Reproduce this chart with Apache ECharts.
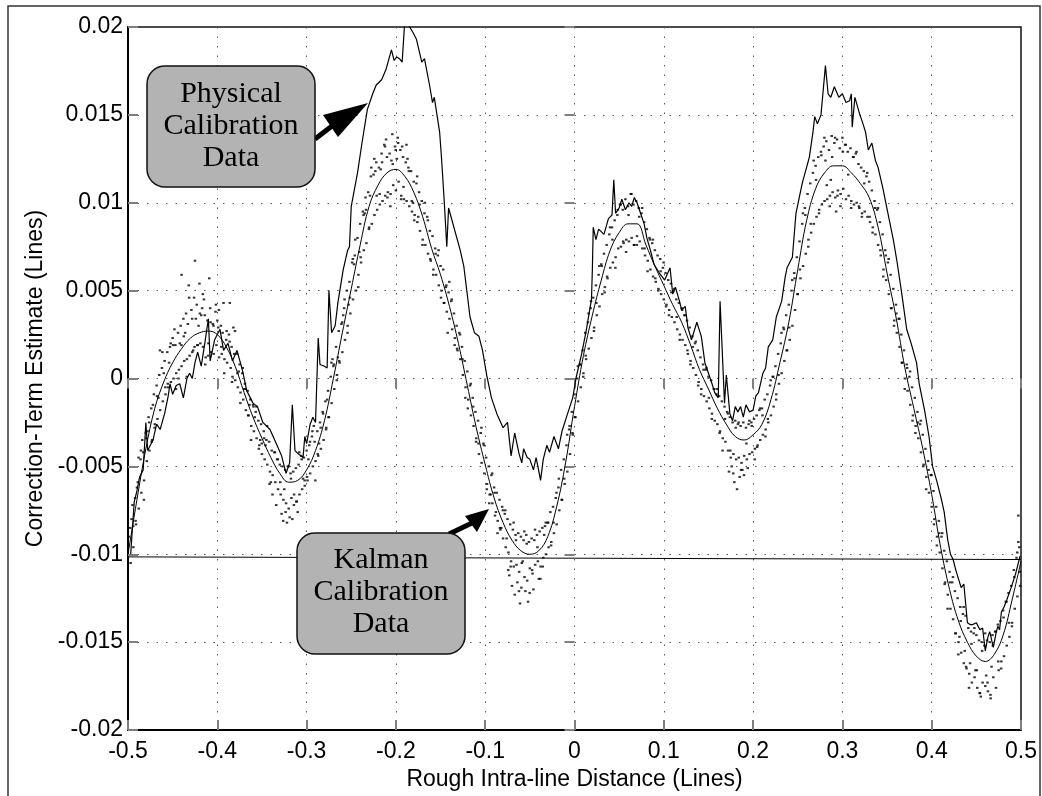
<!DOCTYPE html>
<html>
<head>
<meta charset="utf-8">
<title>Correction-Term Estimate</title>
<script src="https://cdn.jsdelivr.net/npm/echarts@6/dist/echarts.min.js"></script>
<style>
  html, body { margin: 0; padding: 0; background: #fff; }
  #chart { width: 1042px; height: 796px; }
</style>
</head>
<body>
<div id="chart"></div>
<script>
// all y values below are in 1e-3 lines, scatter / physical x values in 1e-3 lines

// fitted curve through the Kalman estimates
const fitX = [-0.5, -0.49, -0.48, -0.47, -0.46, -0.45, -0.44, -0.43, -0.42, -0.41, -0.4, -0.39, -0.38, -0.37, -0.36, -0.35, -0.34, -0.33, -0.32, -0.31, -0.3, -0.29, -0.28, -0.27, -0.26, -0.25, -0.24, -0.23, -0.22, -0.21, -0.2, -0.19, -0.18, -0.17, -0.16, -0.15, -0.14, -0.13, -0.12, -0.11, -0.1, -0.09, -0.08, -0.07, -0.06, -0.05, -0.04, -0.03, -0.02, -0.01, 0, 0.01, 0.02, 0.03, 0.04, 0.05, 0.06, 0.07, 0.08, 0.09, 0.1, 0.11, 0.12, 0.13, 0.14, 0.15, 0.16, 0.17, 0.18, 0.19, 0.2, 0.21, 0.22, 0.23, 0.24, 0.25, 0.26, 0.27, 0.28, 0.29, 0.3, 0.31, 0.32, 0.33, 0.34, 0.35, 0.36, 0.37, 0.38, 0.39, 0.4, 0.41, 0.42, 0.43, 0.44, 0.45, 0.46, 0.47, 0.48, 0.49, 0.5]
const fitY = [-10.0, -6.9, -4.0, -1.7, -0.2, 0.9, 1.7, 2.3, 2.6, 2.7, 2.5, 1.8, 0.7, -0.8, -2.2, -3.4, -4.5, -5.4, -5.9, -5.8, -5.2, -4.1, -2.4, 0.0, 2.6, 5.1, 7.6, 9.8, 11.0, 11.7, 11.9, 11.5, 10.6, 9.2, 7.4, 5.9, 4.1, 2.0, -0.4, -2.8, -4.9, -6.8, -8.2, -9.2, -9.8, -10.0, -9.8, -9.0, -7.3, -4.8, -1.6, 1.3, 3.6, 5.6, 7.3, 8.3, 8.8, 8.8, 7.6, 6.4, 5.3, 4.2, 3.2, 1.9, 0.5, -0.6, -1.7, -2.6, -3.3, -3.5, -3.2, -2.6, -1.2, 0.9, 3.2, 6.2, 9.0, 10.8, 11.7, 12.1, 12.1, 11.7, 11.1, 10.3, 8.6, 6.0, 3.5, 0.6, -1.7, -4.0, -6.6, -9.6, -12.0, -13.8, -15.0, -15.8, -16.1, -15.7, -14.6, -12.6, -10.4]

// physical calibration trace [x, y]
const physicalPts = [
  [-497,-10.0],[-493,-7.0],[-490,-6.4],[-487,-5.6],[-483,-5.2],[-480,-2.5],[-478,-4.1],[-472,-3.5],[-468,-2.6],[-464,-2.9],
  [-459,-2.0],[-455,-1.0],[-453,-0.3],[-450,-0.9],[-446,-0.4],[-442,-0.3],[-438,-1.1],[-434,0.0],[-431,0.3],[-428,0.0],
  [-425,0.9],[-422,1.5],[-418,0.7],[-414,2.0],[-410,3.4],[-408,1.0],[-403,2.2],[-397,2.8],[-393,1.6],[-388,2.0],
  [-383,1.0],[-378,1.6],[-372,0.5],[-367,-0.7],[-360,-1.4],[-355,-1.6],[-349,-2.5],[-341,-2.9],[-334,-3.7],[-328,-4.4],
  [-323,-5.4],[-319,-4.8],[-316,-1.5],[-313,-4.1],[-309,-4.3],[-304,-4.5],[-302,-3.3],[-300,-3.7],[-296,-2.6],[-293,-2.2],
  [-290,-2.5],[-287,2.3],[-285,0.8],[-280,0.7],[-277,0.6],[-275,5.0],[-272,2.6],[-268,3.0],[-265,4.3],[-259,6.2],
  [-254,7.3],[-252,7.5],[-250,9.8],[-243,11.7],[-238,13.4],[-232,15.3],[-226,16.2],[-222,16.7],[-216,17.0],[-211,17.6],
  [-205,18.7],[-202,18.1],[-199,18.3],[-196,18.2],[-193,18.0],[-190,20.4],[-187,20.2],[-181,19.7],[-177,19.3],[-171,18.0],
  [-168,18.2],[-162,16.6],[-159,15.7],[-157,16.0],[-151,14.0],[-149,12.6],[-146,10.2],[-143,7.5],[-141,9.7],[-128,7.3],
  [-124,6.4],[-117,3.5],[-112,2.6],[-107,2.4],[-103,1.6],[-98,0.1],[-93,-1.1],[-87,-2.0],[-80,-2.8],[-75,-2.5],
  [-71,-4.4],[-67,-3.1],[-62,-4.3],[-59,-4.8],[-57,-4.0],[-53,-4.5],[-50,-4.6],[-46,-5.2],[-43,-4.5],[-41,-5.0],
  [-38,-5.8],[-35,-4.6],[-31,-3.8],[-28,-4.2],[-23,-3.3],[-18,-4.0],[-14,-3.0],[-9,-2.2],[-2,-1.1],[2,0.1],
  [8,1.4],[13,2.7],[19,4.5],[20,6.2],[21,8.6],[24,7.9],[27,8.5],[33,8.2],[38,9.1],[42,9.3],
  [44,11.3],[46,9.4],[50,9.7],[53,10.2],[57,9.6],[61,10.0],[64,9.8],[67,10.3],[70,10.0],[74,9.4],
  [78,8.8],[81,8.0],[85,7.3],[89,6.5],[95,6.0],[101,5.6],[107,6.3],[110,4.8],[113,5.2],[117,4.5],
  [120,3.9],[124,4.1],[127,2.9],[131,2.2],[137,3.2],[142,2.4],[146,0.9],[150,0.3],[154,-0.3],[157,-0.8],
  [161,-1.1],[163,4.4],[168,-1.4],[170,0.2],[174,-2.0],[177,-2.4],[180,-1.6],[183,-1.9],[186,-1.6],[189,-2.2],
  [192,-1.5],[196,-1.9],[200,-1.8],[203,-1.0],[206,-0.8],[211,0.3],[214,0.6],[217,1.8],[222,2.2],[226,3.5],
  [232,4.4],[236,5.8],[238,6.3],[244,6.9],[248,9.4],[255,11.1],[263,12.6],[267,14.0],[269,14.9],[272,14.5],
  [276,15.0],[281,17.8],[284,16.2],[287,16.0],[291,16.6],[296,16.0],[300,16.2],[304,15.7],[308,15.8],[310,16.2],
  [311,14.3],[314,16.0],[319,15.1],[323,14.5],[326,14.0],[329,13.0],[333,13.4],[337,12.4],[340,12.0],[345,10.9],
  [351,9.4],[357,7.9],[361,6.7],[366,5.0],[372,2.8],[377,2.0],[383,0.9],[386,-0.3],[392,-1.8],[397,-3.3],
  [401,-5.0],[406,-5.9],[411,-6.9],[414,-7.6],[418,-9.2],[421,-10.0],[424,-10.3],[427,-10.9],[430,-11.4],[433,-11.9],
  [436,-11.7],[440,-13.9],[443,-14.0],[446,-14.0],[450,-13.9],[454,-14.3],[457,-14.2],[460,-15.5],[463,-14.7],[465,-14.4],
  [469,-15.3],[472,-14.5],[474,-14.1],[476,-14.3],[478,-13.3],[481,-13.0],[484,-12.6],[489,-11.9],[494,-11.1],[499,-10.1]
]

// Kalman calibration estimates [x, y]
const kalmanPts = [
  [-499,-9.0],[-497,-10.5],[-496,-8.0],[-494,-9.6],[-495,-7.2],[-492,-6.8],[-491,-8.3],[-489,-5.9],[-488,-7.4],[-490,-6.2],
  [-486,-4.6],[-485,-6.5],[-483,-4.2],[-482,-5.8],[-484,-3.5],[-480,-3.1],[-479,-4.7],[-477,-2.2],[-476,-4.1],[-478,-3.0],
  [-474,-1.7],[-473,-3.5],[-471,-0.9],[-470,-2.6],[-472,-1.5],[-468,-0.4],[-467,-2.3],[-465,0.2],[-464,-1.8],[-466,-1.1],
  [-462,0.6],[-461,-1.3],[-459,1.0],[-458,-0.9],[-460,0.3],[-456,1.5],[-455,-0.5],[-453,1.8],[-452,-0.2],[-454,0.9],
  [-450,2.3],[-449,0.0],[-447,1.9],[-446,0.3],[-448,2.8],[-444,2.6],[-443,0.5],[-441,3.0],[-440,0.7],[-442,2.0],[-440,5.9],
  [-438,3.4],[-437,1.0],[-435,3.7],[-434,1.1],[-436,2.6],[-432,5.3],[-431,1.3],[-433,3.1],[-429,3.9],[-428,1.5],
  [-426,4.6],[-425,6.7],[-424,3.4],[-427,1.6],[-423,4.2],[-422,1.9],[-421,3.0],[-420,5.4],[-419,2.0],[-418,3.6],
  [-417,4.0],[-416,1.8],[-414,3.6],[-413,1.2],[-415,4.5],[-411,3.3],[-410,2.0],[-408,4.0],[-407,1.5],[-409,5.7],
  [-405,3.1],[-404,1.4],[-402,3.8],[-401,1.9],[-399,2.9],[-398,1.2],[-400,3.3],[-396,3.0],[-395,1.4],[-393,4.3],[-392,1.1],[-394,2.6],
  [-390,2.2],[-389,0.9],[-387,2.5],[-386,4.3],[-385,0.6],[-384,1.8],[-383,0.1],[-382,2.9],[-381,1.4],[-380,-0.1],
  [-378,1.4],[-377,-0.5],[-375,0.8],[-374,-0.8],[-376,0.4],[-372,0.3],[-371,-1.2],[-369,-0.3],[-368,-1.8],[-370,-0.6],
  [-366,-0.7],[-365,-2.1],[-363,-1.2],[-362,-2.7],[-364,-1.5],[-360,-1.5],[-359,-3.0],[-357,-1.9],[-356,-3.4],[-358,-2.2],
  [-354,-2.4],[-353,-3.8],[-351,-2.6],[-350,-4.3],[-352,-3.5],[-348,-3.0],[-347,-4.6],[-345,-3.5],[-344,-4.9],[-346,-3.8],
  [-342,-3.6],[-341,-5.3],[-339,-4.1],[-338,-5.5],[-340,-5.9],[-336,-4.2],[-335,-5.9],[-333,-4.6],[-332,-6.3],[-334,-7.2],
  [-330,-4.9],[-329,-6.6],[-327,-5.0],[-326,-6.9],[-328,-7.7],[-324,-5.2],[-323,-7.1],[-325,-6.3],[-321,-5.0],[-320,-7.4],[-322,-8.2],
  [-318,-5.4],[-317,-6.8],[-319,-7.9],[-315,-5.3],[-314,-6.6],[-316,-8.0],[-312,-5.1],[-311,-7.0],[-309,-4.9],[-308,-6.6],[-310,-7.6],
  [-306,-4.4],[-305,-6.3],[-303,-4.5],[-302,-6.1],[-304,-5.7],[-300,-4.1],[-299,-5.8],[-297,-3.8],[-296,-5.4],[-298,-4.6],
  [-294,-3.3],[-293,-5.0],[-291,-3.6],[-290,-4.7],[-292,-2.7],[-288,-3.0],[-287,-4.4],[-285,-2.5],[-284,-4.0],[-286,-3.7],
  [-282,-1.9],[-281,-3.5],[-279,-1.3],[-278,-2.8],[-276,-0.7],[-275,-2.2],[-277,-1.2],[-273,0.1],[-272,-1.4],
  [-270,0.7],[-269,-0.6],[-271,1.1],[-267,1.8],[-266,0.2],[-264,2.7],[-263,0.9],[-265,1.2],[-261,3.1],[-260,1.5],
  [-258,4.0],[-257,2.2],[-259,3.6],[-255,5.0],[-254,3.0],[-252,5.5],[-251,3.7],[-253,4.2],[-249,6.6],[-248,4.5],
  [-246,7.0],[-245,5.0],[-247,6.5],[-243,8.0],[-242,5.9],[-240,8.8],[-239,6.6],[-241,7.2],[-237,9.5],[-236,7.3],
  [-234,10.3],[-233,7.7],[-235,9.4],[-231,10.6],[-230,8.6],[-228,11.5],[-227,8.8],[-229,10.4],[-225,11.6],[-224,9.3],
  [-222,12.3],[-221,9.6],[-223,11.8],[-219,12.0],[-218,9.9],[-216,12.8],[-215,10.1],[-217,11.9],[-213,13.3],[-212,10.4],
  [-210,12.6],[-209,10.6],[-211,13.6],[-207,12.8],[-206,10.5],[-204,13.9],[-203,11.0],[-205,12.4],[-201,13.2],[-200,10.7],
  [-198,13.7],[-197,11.2],[-199,12.5],[-195,13.0],[-194,10.4],[-192,12.6],[-191,10.2],[-193,13.2],[-189,12.3],[-188,10.1],
  [-186,12.0],[-185,9.8],[-187,12.5],[-183,11.8],[-182,9.5],[-180,11.2],[-179,9.3],[-181,10.0],[-177,11.1],[-176,8.9],
  [-174,10.6],[-173,8.4],[-175,9.2],[-171,10.1],[-170,7.9],[-168,9.4],[-167,7.6],[-165,9.2],[-164,7.1],[-162,8.4],[-161,6.7],
  [-159,8.1],[-158,6.2],[-156,7.4],[-155,5.9],[-153,7.0],[-152,5.3],[-150,6.4],[-149,5.0],[-147,6.2],[-146,4.3],
  [-144,5.2],[-143,3.8],[-141,4.9],[-140,3.4],[-142,2.6],[-138,4.4],[-137,2.8],[-135,3.7],[-134,2.3],[-132,3.0],[-131,1.6],
  [-129,2.6],[-128,1.1],[-126,1.8],[-125,0.2],[-123,1.0],[-122,-0.5],[-120,0.4],[-119,-1.2],[-117,-0.4],[-116,-2.1],
  [-114,-1.1],[-113,-2.7],[-111,-1.9],[-110,-3.4],[-108,-2.4],[-107,-4.3],[-105,-3.1],[-104,-4.8],[-102,-3.7],[-101,-5.4],
  [-99,-4.5],[-98,-6.0],[-96,-5.0],[-95,-6.6],[-93,-5.5],[-92,-7.1],[-94,-6.6],[-90,-6.2],[-89,-7.8],[-87,-6.5],[-86,-8.1],[-88,-7.6],
  [-84,-6.9],[-83,-8.6],[-81,-7.3],[-80,-9.1],[-82,-8.5],[-78,-7.7],[-77,-9.6],[-75,-8.0],[-74,-9.9],[-76,-9.1],
  [-72,-8.3],[-71,-10.4],[-73,-11.2],[-69,-8.6],[-68,-10.7],[-70,-11.8],[-66,-8.9],[-65,-10.6],[-67,-12.3],
  [-63,-8.8],[-62,-11.0],[-64,-11.6],[-60,-9.0],[-59,-10.5],[-61,-12.8],[-57,-9.2],[-56,-11.3],[-58,-10.4],
  [-54,-8.9],[-53,-11.5],[-55,-12.1],[-51,-9.3],[-50,-10.8],[-52,-12.7],[-48,-9.1],[-47,-11.1],[-45,-9.2],[-44,-10.6],[-46,-12.0],
  [-42,-8.9],[-41,-10.4],[-39,-8.7],[-38,-10.7],[-40,-11.4],[-36,-8.5],[-35,-10.2],[-33,-8.4],[-32,-10.0],[-34,-8.9],
  [-30,-8.2],[-29,-9.6],[-27,-7.6],[-26,-9.3],[-24,-7.3],[-23,-8.8],[-21,-6.8],[-20,-8.3],[-18,-6.2],[-17,-7.5],
  [-15,-5.2],[-14,-6.9],[-12,-4.6],[-11,-6.0],[-9,-3.8],[-8,-5.3],[-6,-2.9],[-5,-4.3],[-3,-1.9],[-2,-3.2],
  [0,-0.9],[1,-2.2],[3,0.0],[4,-1.3],[6,0.8],[7,-0.5],[9,1.6],[10,0.3],[12,2.6],[13,1.1],
  [15,3.2],[16,1.7],[18,4.0],[19,2.3],[21,4.6],[22,2.9],[24,5.3],[25,3.6],[27,5.9],[28,4.1],
  [30,6.5],[31,4.8],[33,7.1],[34,5.2],[36,7.6],[37,5.7],[39,8.2],[40,6.3],[42,8.6],[43,6.6],
  [45,9.0],[46,6.9],[48,9.3],[49,7.4],[51,9.9],[52,7.5],[54,9.6],[55,7.7],[57,10.2],[58,7.9],
  [60,9.8],[61,7.8],[63,10.5],[64,8.0],[66,9.9],[67,7.6],[69,10.1],[70,8.1],[72,9.7],[73,7.8],
  [75,9.4],[76,7.4],[78,8.9],[79,7.0],[81,8.5],[82,6.7],[84,8.0],[85,6.2],[87,7.7],[88,5.8],
  [90,7.3],[91,5.5],[93,7.0],[94,5.1],[96,6.8],[97,4.8],[99,6.3],[100,4.5],[102,6.0],[103,4.2],
  [105,5.6],[106,3.9],[108,5.4],[109,3.5],[111,5.0],[112,3.2],[114,4.5],[115,2.8],[117,4.3],[118,2.5],
  [120,4.0],[121,2.2],[123,3.6],[124,1.9],[126,3.3],[127,1.4],[129,2.9],[130,1.0],[132,2.4],[133,0.6],
  [135,2.0],[136,0.2],[138,1.6],[139,-0.2],[141,1.2],[142,-0.6],[144,0.8],[145,-1.0],[147,0.5],[148,-1.3],
  [150,0.1],[151,-1.7],[153,-0.1],[154,-2.0],[156,-0.6],[157,-2.4],[159,-0.9],[160,-2.6],[162,-1.0],[163,-3.0],
  [165,-1.3],[166,-3.4],[168,-1.6],[169,-3.6],[171,-1.9],[172,-4.1],[174,-2.2],[175,-4.5],[173,-5.3],
  [177,-2.5],[178,-4.3],[176,-5.0],[180,-2.4],[181,-4.6],[179,-5.9],[183,-2.6],[184,-4.5],[182,-6.3],
  [186,-2.7],[187,-4.8],[185,-5.6],[189,-2.5],[190,-4.4],[188,-5.2],[192,-2.8],[193,-4.6],[195,-2.6],[196,-4.3],[194,-5.1],
  [198,-2.5],[199,-4.2],[201,-2.3],[202,-4.0],[204,-2.1],[205,-3.8],[207,-1.8],[208,-3.5],[210,-1.7],[211,-3.2],
  [213,-1.2],[214,-2.9],[216,-0.9],[217,-2.5],[219,-0.4],[220,-2.1],[222,0.1],[223,-1.6],[225,0.7],[226,-0.9],
  [228,1.4],[229,-0.3],[231,2.0],[232,0.3],[234,2.9],[235,1.0],[237,3.6],[238,1.6],[240,4.2],[241,2.2],
  [243,5.0],[244,3.0],[246,6.0],[247,3.9],[249,6.9],[250,4.8],[252,7.8],[253,5.7],[255,8.8],[256,6.4],
  [258,9.7],[259,7.1],[261,10.5],[262,7.9],[264,11.1],[265,8.3],[267,11.7],[268,8.8],[270,12.1],[271,9.2],
  [273,12.6],[274,9.6],[276,12.9],[277,9.9],[279,13.2],[280,10.1],[282,13.5],[283,10.2],[281,12.4],[285,13.0],[286,10.4],
  [288,13.8],[289,10.6],[287,11.3],[291,13.4],[292,10.3],[294,13.6],[295,10.7],[293,9.5],[297,13.1],[298,10.5],
  [300,13.7],[301,10.8],[303,13.3],[304,10.2],[306,12.9],[307,10.4],[309,13.1],[310,10.1],[312,12.6],[313,9.9],
  [315,12.8],[316,10.0],[318,12.2],[319,9.7],[321,12.0],[322,9.4],[324,11.8],[325,9.5],[327,11.5],[328,9.2],
  [330,11.2],[331,8.9],[333,10.7],[334,8.6],[336,10.1],[337,8.2],[339,9.6],[340,7.6],[342,8.9],[343,7.0],
  [345,8.2],[346,6.2],[348,7.3],[349,5.6],[351,6.6],[352,4.8],[354,5.9],[355,4.0],[357,5.1],[358,3.3],
  [360,4.2],[361,2.6],[363,3.4],[364,1.8],[366,2.5],[367,0.9],[369,1.6],[370,0.0],[372,0.8],[373,-0.7],
  [375,0.1],[376,-1.5],[378,-0.5],[379,-2.1],[381,-1.1],[382,-2.7],[384,-1.9],[385,-3.4],[387,-2.6],[388,-4.2],
  [390,-3.2],[391,-4.9],[393,-4.0],[394,-5.6],[396,-4.7],[397,-6.5],[399,-5.5],[400,-7.3],[402,-6.4],[403,-8.0],
  [405,-7.3],[406,-9.0],[408,-8.1],[409,-9.9],[411,-9.0],[412,-10.8],[414,-9.8],[415,-11.6],[417,-10.4],[418,-12.3],
  [420,-11.0],[421,-13.1],[423,-11.6],[424,-13.7],[426,-12.1],[427,-14.5],[429,-12.5],[430,-15.0],
  [432,-13.0],[433,-15.6],[431,-14.7],[435,-13.4],[436,-16.2],[438,-13.5],[439,-16.5],[437,-15.5],[441,-14.2],[442,-16.8],
  [444,-14.4],[445,-17.3],[443,-16.2],[447,-14.5],[448,-17.0],[450,-14.6],[451,-17.6],[449,-16.6],[453,-14.9],[454,-17.9],
  [456,-15.0],[457,-17.3],[455,-18.1],[459,-15.2],[460,-17.5],[462,-14.9],[463,-17.8],[461,-16.9],[465,-15.0],[466,-18.2],
  [468,-14.6],[469,-17.0],[467,-16.4],[471,-14.4],[472,-17.6],[474,-14.0],[475,-16.6],[477,-13.8],[478,-16.1],
  [480,-13.2],[481,-15.8],[483,-12.7],[484,-15.2],[486,-12.2],[487,-14.7],[489,-11.8],[490,-13.9],[492,-10.9],[493,-13.1],
  [495,-10.2],[496,-12.4],[497,-7.8],[498,-9.6],[499,-11.8],[497,-9.3],
  // points lying close to the fit
  [-497.5,-8.5],[-491.5,-8.1],[-485.5,-4.1],[-479.5,-3.4],[-473.5,-3.6],[-467.5,-1.0],[-461.5,1.5],[-455.5,-0.3],
  [-449.5,1.9],[-443.5,0.0],[-437.5,2.4],[-431.5,4.6],[-425.5,1.8],[-419.5,3.7],[-413.5,0.8],[-407.5,3.2],
  [-401.5,4.2],[-395.5,1.8],[-389.5,2.7],[-383.5,-0.2],[-377.5,0.3],[-371.5,0.6],[-365.5,-2.1],[-359.5,-1.6],
  [-353.5,-4.0],[-347.5,-3.4],[-341.5,-6.0],[-335.5,-4.2],[-329.5,-5.9],[-323.5,-7.6],[-317.5,-5.7],[-311.5,-7.0],
  [-305.5,-4.6],[-299.5,-5.6],[-293.5,-3.0],[-287.5,-4.3],[-281.5,-2.0],[-275.5,-2.2],[-269.5,0.8],[-263.5,1.0],
  [-257.5,4.5],[-251.5,4.6],[-245.5,7.9],[-239.5,6.9],[-233.5,9.6],[-227.5,12.0],[-221.5,10.4],[-215.5,12.3],
  [-209.5,10.3],[-203.5,12.2],[-197.5,13.4],[-191.5,10.9],[-185.5,11.8],[-179.5,9.0],[-173.5,9.9],[-167.5,10.0],
  [-161.5,6.8],[-155.5,7.1],[-149.5,4.6],[-143.5,5.3],[-137.5,4.5],[-131.5,1.7],[-125.5,1.1],[-119.5,-1.7],
  [-113.5,-1.6],[-107.5,-3.7],[-101.5,-3.8],[-95.5,-7.1],[-89.5,-6.5],[-83.5,-8.5],[-77.5,-7.5],[-71.5,-10.7],
  [-65.5,-9.2],[-59.5,-11.9],[-53.5,-9.4],[-47.5,-10.9],[-41.5,-9.6],[-35.5,-10.7],[-29.5,-8.2],[-23.5,-8.2],
  [-17.5,-5.7],[-11.5,-5.7],[-5.5,-2.7],[0.5,-2.2],[6.5,0.8],[12.5,1.3],[18.5,4.4],[24.5,4.3],
  [30.5,6.4],[36.5,5.8],[42.5,7.9],[48.5,9.6],[54.5,7.8],[60.5,9.3],[66.5,7.6],[72.5,9.2],
  [78.5,7.4],[84.5,7.9],[90.5,5.7],[96.5,6.1],[102.5,4.1],[108.5,4.9],[114.5,3.5],[120.5,3.9],
  [126.5,1.6],[132.5,1.8],[138.5,-0.4],[144.5,0.5],[150.5,-1.1],[156.5,-0.6],[162.5,-3.1],[168.5,-2.3],
  [174.5,-4.1],[180.5,-2.8],[186.5,-5.2],[192.5,-3.7],[198.5,-2.7],[204.5,-3.9],[210.5,-2.1],[216.5,-2.3],
  [222.5,0.1],[228.5,0.2],[234.5,2.8],[240.5,2.9],[246.5,5.7],[252.5,6.2],[258.5,9.3],[264.5,8.8],
  [270.5,11.3],[276.5,12.7],[282.5,11.0],[288.5,12.6],[294.5,10.4],[300.5,12.9],[306.5,11.6],[312.5,12.6],
  [318.5,9.8],[324.5,11.1],[330.5,9.2],[336.5,9.7],[342.5,7.3],[348.5,7.0],[354.5,4.0],[360.5,3.7],
  [366.5,0.9],[372.5,0.6],[378.5,-2.4],[384.5,-2.5],[390.5,-5.0],[396.5,-5.2],[402.5,-8.3],[408.5,-8.8],
  [414.5,-11.7],[420.5,-11.6],[426.5,-14.5],[432.5,-13.8],[438.5,-16.4],[444.5,-15.1],[450.5,-16.6],[456.5,-15.5],
  [462.5,-17.3],[468.5,-15.2],[474.5,-16.1],[480.5,-13.6],[486.5,-13.9],[492.5,-11.3],[498.5,-11.0],
  // wider scattered points
  [-494.2,-8.4],[-488.2,-4.5],[-482.2,-6.9],[-476.2,-2.5],[-470.2,-2.8],[-464.2,1.6],[-458.2,-0.5],[-452.2,2.0],
  [-446.2,-0.6],[-440.2,1.9],[-434.2,0.1],[-428.2,3.4],[-422.2,1.9],[-416.2,4.8],[-410.2,1.3],[-404.2,3.0],
  [-398.2,3.9],[-392.2,0.3],[-386.2,2.1],[-380.2,2.7],[-374.2,-1.4],[-368.2,-0.6],[-362.2,-3.5],[-356.2,-1.6],
  [-350.2,-3.7],[-344.2,-2.7],[-338.2,-6.6],[-332.2,-4.6],[-326.2,-8.1],[-320.2,-5.0],[-314.2,-7.2],[-308.2,-4.2],
  [-302.2,-5.8],[-296.2,-3.6],[-290.2,-5.8],[-284.2,-2.8],[-278.2,-2.9],[-272.2,0.9],[-266.2,-0.1],[-260.2,3.2],
  [-254.2,2.6],[-248.2,6.8],[-242.2,5.2],[-236.2,9.3],[-230.2,8.5],[-224.2,12.5],[-218.2,10.5],[-212.2,13.2],
  [-206.2,9.8],[-200.2,13.0],[-194.2,10.2],[-188.2,13.3],[-182.2,10.1],[-176.2,11.5],[-170.2,7.6],[-164.2,9.0],
  [-158.2,5.9],[-152.2,7.3],[-146.2,4.3],[-140.2,5.5],[-134.2,1.9],[-128.2,2.5],[-122.2,-1.1],[-116.2,-0.3],
  [-110.2,-3.6],[-104.2,-2.8],[-98.2,-6.3],[-92.2,-5.4],[-86.2,-8.8],[-80.2,-7.5],[-74.2,-10.9],[-68.2,-8.2],
  [-62.2,-12.1],[-56.2,-8.7],[-50.2,-12.2],[-44.2,-8.6],[-38.2,-11.4],[-32.2,-8.2],[-26.2,-9.5],[-20.2,-6.5],
  [-14.2,-6.9],[-8.2,-3.2],[-2.2,-3.1],[3.8,0.7],[9.8,0.1],[15.8,3.7],[21.8,2.7],[27.8,6.4],
  [33.8,4.9],[39.8,8.6],[45.8,6.3],[51.8,9.9],[57.8,7.2],[63.8,10.5],[69.8,7.6],[75.8,9.7],
  [81.8,6.1],[87.8,7.9],[93.8,5.0],[99.8,6.6],[105.8,3.6],[111.8,5.1],[117.8,2.2],[123.8,3.6],
  [129.8,0.8],[135.8,2.1],[141.8,-0.9],[147.8,0.6],[153.8,-2.3],[159.8,-0.6],[165.8,-4.1],[171.8,-2.0],
  [177.8,-5.4],[183.8,-2.5],[189.8,-5.5],[195.8,-2.4],[201.8,-4.6],[207.8,-1.7],[213.8,-3.3],[219.8,-0.1],
  [225.8,-1.2],[231.8,2.6],[237.8,1.6],[243.8,5.6],[249.8,4.8],[255.8,9.4],[261.8,7.5],[267.8,12.4],
  [273.8,9.4],[279.8,13.7],[285.8,9.8],[291.8,13.7],[297.8,9.8],[303.8,13.3],[309.8,9.7],[315.8,12.9],
  [321.8,9.2],[327.8,11.7],[333.8,8.3],[339.8,9.7],[345.8,5.8],[351.8,6.8],[357.8,3.0],[363.8,3.4],
  [369.8,-0.6],[375.8,0.4],[381.8,-3.1],[387.8,-2.4],[393.8,-6.3],[399.8,-5.5],[405.8,-9.5],[411.8,-8.8],
  [417.8,-13.1],[423.8,-11.3],[429.8,-15.7],[435.8,-13.0],[441.8,-17.6],[447.8,-14.2],[453.8,-17.9],[459.8,-14.5],
  [465.8,-18.0],[471.8,-14.4],[477.8,-16.5],[483.8,-12.7],[489.8,-14.1],[495.8,-9.9]
]

// nearly flat reference line
const baseX = [-0.5, 0.5]
const baseY = [-10.15, -10.3]

const font = 'Liberation Sans, Arial, Helvetica, sans-serif'
const serif = 'Liberation Serif, Times New Roman, serif'
const milli = v => v / 1000

const chart = echarts.init(document.getElementById('chart'), null, { renderer: 'canvas' })

const gridLine = { show: true, lineStyle: { color: '#555', width: 1, type: [1.5, 8] } }
const tick = { show: true, inside: true, length: 10, lineStyle: { color: '#7f7f7f', width: 2 } }

chart.setOption({
  animation: false,
  backgroundColor: '#fff',
  grid: {
    left: 128, top: 27, right: 21, bottom: 66,
    show: true, borderColor: '#111', borderWidth: 1.5,
    outerBoundsMode: 'none'
  },
  xAxis: [{
    type: 'value', min: -0.5, max: 0.5, interval: 0.1, position: 'bottom',
    name: 'Rough Intra-line Distance (Lines)', nameLocation: 'middle', nameGap: 31,
    nameTextStyle: { color: '#000', fontSize: 23, fontFamily: font },
    axisLine: { show: true, onZero: false, lineStyle: { color: '#000', width: 2 } },
    axisTick: tick,
    axisLabel: { color: '#000', fontSize: 23, fontFamily: font, margin: 10 },
    splitLine: gridLine
  }, {
    type: 'value', min: -0.5, max: 0.5, interval: 0.1, position: 'top',
    axisLine: { show: false }, axisTick: tick, axisLabel: { show: false }, splitLine: { show: false }
  }],
  yAxis: [{
    type: 'value', min: -0.02, max: 0.02, interval: 0.005, position: 'left',
    name: 'Correction-Term Estimate (Lines)', nameLocation: 'middle', nameGap: 78,
    nameTextStyle: { color: '#000', fontSize: 23, fontFamily: font },
    axisLine: { show: true, onZero: false, lineStyle: { color: '#000', width: 2 } },
    axisTick: tick,
    axisLabel: { color: '#000', fontSize: 23, fontFamily: font, margin: 5 },
    splitLine: gridLine
  }, {
    type: 'value', min: -0.02, max: 0.02, interval: 0.005, position: 'right',
    axisLine: { show: false }, axisTick: tick, axisLabel: { show: false }, splitLine: { show: false }
  }],
  series: [{
    name: 'Kalman Calibration Data',
    type: 'scatter',
    symbol: 'rect',
    symbolSize: [2.5, 2],
    itemStyle: { color: '#000' },
    data: kalmanPts.map(p => [milli(p[0]), milli(p[1])]),
    z: 3
  }, {
    name: 'Fit',
    type: 'line',
    smooth: 0.4,
    showSymbol: false,
    lineStyle: { color: '#000', width: 1 },
    data: fitX.map((x, i) => [x, milli(fitY[i])]),
    z: 4
  }, {
    name: 'Physical Calibration Data',
    type: 'line',
    showSymbol: false,
    lineStyle: { color: '#000', width: 1.2 },
    data: physicalPts.map(p => [milli(p[0]), milli(p[1])]),
    z: 4
  }, {
    name: 'Reference',
    type: 'line',
    showSymbol: false,
    lineStyle: { color: '#000', width: 1 },
    data: baseX.map((x, i) => [x, milli(baseY[i])]),
    z: 4
  }],
  graphic: [
    // outer figure frame
    { type: 'rect', z: 0, silent: true, shape: { x: 8, y: 6, width: 1032, height: 800 },
      style: { fill: 'none', stroke: '#333', lineWidth: 1.5 } },
    // physical callout
    { type: 'polyline', z: 100, shape: { points: [[315, 139], [332, 126]] }, style: { stroke: '#000', lineWidth: 5 } },
    { type: 'polygon', z: 100, shape: { points: [[368, 103], [323, 115], [338, 137]] }, style: { fill: '#000' } },
    { type: 'rect', z: 100, shape: { x: 147, y: 66, width: 168, height: 121, r: 18 },
      style: { fill: '#b3b3b3', stroke: '#111', lineWidth: 1.5 } },
    { type: 'text', z: 101, style: { x: 231, y: 126, text: 'Physical\nCalibration\nData', align: 'center', verticalAlign: 'middle',
      fontSize: 30, fontFamily: serif, lineHeight: 32, fill: '#000' } },
    // kalman callout
    { type: 'polyline', z: 100, shape: { points: [[449, 534], [472, 523]] }, style: { stroke: '#000', lineWidth: 5 } },
    { type: 'polygon', z: 100, shape: { points: [[489, 509], [465, 516], [477, 532]] }, style: { fill: '#000' } },
    { type: 'rect', z: 100, shape: { x: 297, y: 533, width: 168, height: 121, r: 18 },
      style: { fill: '#b3b3b3', stroke: '#111', lineWidth: 1.5 } },
    { type: 'text', z: 101, style: { x: 381, y: 592, text: 'Kalman\nCalibration\nData', align: 'center', verticalAlign: 'middle',
      fontSize: 30, fontFamily: serif, lineHeight: 32, fill: '#000' } }
  ]
})
</script>
</body>
</html>
